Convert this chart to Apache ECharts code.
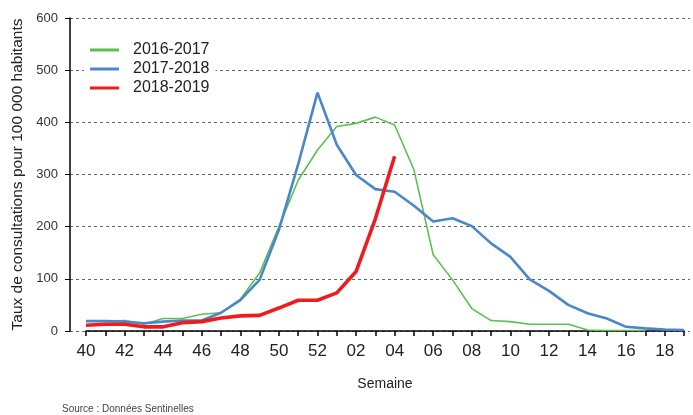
<!DOCTYPE html>
<html>
<head>
<meta charset="UTF-8">
<title></title>
<script src="https://cdn.jsdelivr.net/npm/echarts@6/dist/echarts.min.js"></script>
<style>
  html, body { margin: 0; padding: 0; background: #fff; }
  #main { width: 693px; height: 415px; }
</style>
</head>
<body>
<div id="main"></div>
<script>
  var weeks = ['40','41','42','43','44','45','46','47','48','49','50','51','52',
    '01','02','03','04','05','06','07','08','09','10','11','12','13','14','15','16','17','18','19'];

  var s1617 = [19, 19, 20, 13, 24, 24, 32, 35, 61, 111, 200, 289, 347,
    392, 398, 410, 395, 309, 146, 98, 43, 20, 18, 13, 13, 13, 2, 1, 1, 1];
  var s1718 = [19, 19, 18, 15, 18, 20, 20, 35, 59, 98, 194, 320, 457,
    357, 299, 272, 267, 240, 210, 216, 201, 168, 142, 99, 77, 50, 34, 24, 8, 5, 3, 2];
  var s1819 = [11, 13, 13, 8, 8, 16, 18, 25, 29, 30, 44, 59, 59,
    73, 114, 215, 335];

  var myChart = echarts.init(document.getElementById('main'));

  myChart.setOption({
    animation: false,
    textStyle: { fontFamily: 'Liberation Sans, Arial, sans-serif' },
    title: {
      text: 'Source : Données Sentinelles',
      left: 62,
      top: 404,
      padding: 0,
      textStyle: { fontSize: 10, fontWeight: 'normal', color: '#444' }
    },
    legend: {
      orient: 'vertical',
      left: 84,
      top: 38,
      padding: [4, 6, 4, 6],
      backgroundColor: '#fff',
      itemWidth: 29,
      itemHeight: 3,
      itemGap: 3,
      icon: 'rect',
      textStyle: { fontSize: 16, color: '#222', padding: [0, 0, 0, 9] },
      data: ['2016-2017', '2017-2018', '2018-2019']
    },
    grid: [
      { left: 86, right: 9, top: 18, bottom: 84, outerBoundsMode: 'none' },
      { left: 70, right: 3, top: 18, bottom: 84, outerBoundsMode: 'none' }
    ],
    xAxis: [{
      type: 'category',
      gridIndex: 0,
      data: weeks,
      boundaryGap: false,
      name: 'Semaine',
      nameLocation: 'middle',
      nameGap: 46,
      nameTextStyle: { fontSize: 14, color: '#222' },
      axisLine: { lineStyle: { color: '#000', width: 1.5 } },
      axisTick: { interval: 0, length: 5, lineStyle: { color: '#000', width: 1.5 } },
      axisLabel: { interval: 1, fontSize: 17, color: '#222', margin: 12 }
    }, {
      type: 'value',
      gridIndex: 1,
      show: false
    }],
    yAxis: [{
      type: 'value',
      gridIndex: 0,
      min: 0,
      max: 600,
      interval: 100,
      offset: 16,
      name: 'Taux de consultations pour 100 000 habitants',
      nameLocation: 'middle',
      nameGap: 42,
      nameTextStyle: { fontSize: 15.5, color: '#222' },
      axisLine: { show: true, lineStyle: { color: '#000', width: 1.5 } },
      axisTick: { show: true, length: 5, lineStyle: { color: '#000' } },
      axisLabel: { fontSize: 13, color: '#333', margin: 12 },
      splitLine: { show: false }
    }, {
      type: 'value',
      gridIndex: 1,
      min: 0,
      max: 600,
      interval: 100,
      axisLine: { show: false },
      axisTick: { show: false },
      axisLabel: { show: false },
      splitLine: { lineStyle: { color: '#666', type: [3, 3], width: 1 } }
    }],
    series: [{
      name: '2016-2017',
      type: 'line',
      data: s1617,
      symbol: 'none',
      color: '#5cbf52',
      lineStyle: { width: 1.6 }
    }, {
      name: '2017-2018',
      type: 'line',
      data: s1718,
      symbol: 'none',
      color: '#4a86c8',
      lineStyle: { width: 2.6 }
    }, {
      name: '2018-2019',
      type: 'line',
      data: s1819,
      symbol: 'none',
      color: '#ee1c1c',
      lineStyle: { width: 3.6 }
    }]
  });
</script>
</body>
</html>
